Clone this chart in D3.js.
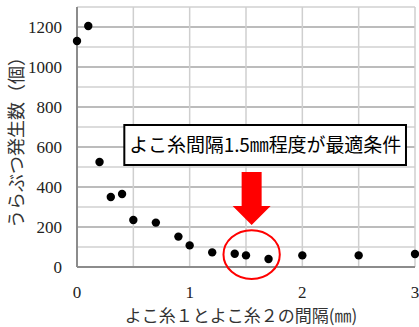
<!DOCTYPE html>
<html>
<head>
<meta charset="utf-8">
<script src="https://cdn.jsdelivr.net/npm/d3@7"></script>
<style>
  html, body { margin: 0; padding: 0; background: #fff; }
  svg { display: block; }
</style>
</head>
<body>
<div id="chart"></div>
<script>
// よこ糸間隔 vs うらぶつ発生数 — 散布図
const spacing = [0, 0.1, 0.2, 0.3, 0.4, 0.5, 0.7, 0.9, 1.0, 1.2, 1.4, 1.5, 1.7, 2.0, 2.5, 3.0]
const counts  = [1130, 1205, 525, 350, 365, 235, 222, 152, 108, 73, 66, 58, 40, 58, 58, 65]
const xTicks = [0, 1, 2, 3]
const yTicks = [0, 200, 400, 600, 800, 1000, 1200]
const xLabel = "よこ糸１とよこ糸２の間隔(㎜)"
const yLabel = "うらぶつ発生数（個）"
const note = "よこ糸間隔1.5㎜程度が最適条件"

const W = 419, H = 327
const margin = { top: 7, right: 4, bottom: 60, left: 77 }

const svg = d3.select("#chart").append("svg")
  .attr("width", W).attr("height", H)

const x = d3.scaleLinear().domain([0, 3]).range([margin.left, W - margin.right])
const y = d3.scaleLinear().domain([0, 1300]).range([H - margin.bottom, margin.top])

// grille : 100 clair, 200 plus foncé ; verticales tous les 0.5
const g = svg.append("g")
g.selectAll("line.hgrid")
  .data(d3.range(100, 1301, 100))
  .join("line")
  .attr("x1", x(0)).attr("x2", x(3))
  .attr("y1", d => y(d)).attr("y2", d => y(d))
  .attr("stroke", d => d % 200 === 0 ? "#a6a6a6" : "#d0d0d0")
  .attr("stroke-width", 1.5)
g.selectAll("line.vgrid")
  .data(d3.range(0.5, 3.01, 0.5))
  .join("line")
  .attr("x1", d => x(d)).attr("x2", d => x(d))
  .attr("y1", y(0)).attr("y2", y(1300))
  .attr("stroke", "#cfcfcf")
  .attr("stroke-width", 1.5)

// axes
g.append("line")
  .attr("x1", x(0)).attr("x2", x(0)).attr("y1", y(0)).attr("y2", y(1300))
  .attr("stroke", "#8c8c8c").attr("stroke-width", 2)
g.append("line")
  .attr("x1", x(0)).attr("x2", x(3)).attr("y1", y(0)).attr("y2", y(0))
  .attr("stroke", "#8c8c8c").attr("stroke-width", 2)

const tickFont = "'Liberation Serif', 'Times New Roman', serif"
svg.selectAll("text.ytick")
  .data(yTicks)
  .join("text")
  .attr("x", 62).attr("y", d => y(d) + 6)
  .attr("text-anchor", "end")
  .attr("font-family", tickFont).attr("font-size", 17)
  .attr("fill", "#222")
  .text(d => d)
svg.selectAll("text.xtick")
  .data(xTicks)
  .join("text")
  .attr("x", d => x(d)).attr("y", 298)
  .attr("text-anchor", "middle")
  .attr("font-family", tickFont).attr("font-size", 17)
  .attr("fill", "#222")
  .text(d => d)

const jpFont = "'Noto Sans CJK JP', sans-serif"
svg.append("text")
  .attr("x", 241).attr("y", 322)
  .attr("text-anchor", "middle")
  .attr("font-family", jpFont).attr("font-size", 17)
  .attr("fill", "#333")
  .text(xLabel)
svg.append("text")
  .attr("transform", "translate(23,138) rotate(-90)")
  .attr("text-anchor", "middle")
  .attr("font-family", jpFont).attr("font-size", 18)
  .attr("fill", "#333")
  .text(yLabel)

// points
svg.selectAll("circle.pt")
  .data(spacing.map((s, i) => [s, counts[i]]))
  .join("circle")
  .attr("cx", d => x(d[0])).attr("cy", d => y(d[1]))
  .attr("r", 4.2)
  .attr("fill", "#000")

// annotation : encadré
const box = { x0: 0.42, x1: 2.92, y0: 710, y1: 510 }
svg.append("rect")
  .attr("x", x(box.x0)).attr("y", y(box.y0))
  .attr("width", x(box.x1) - x(box.x0)).attr("height", y(box.y1) - y(box.y0))
  .attr("fill", "#fff").attr("stroke", "#000").attr("stroke-width", 2)
svg.append("text")
  .attr("x", x((box.x0 + box.x1) / 2)).attr("y", y((box.y0 + box.y1) / 2) + 7)
  .attr("text-anchor", "middle")
  .attr("font-family", jpFont).attr("font-size", 19)
  .attr("textLength", 272).attr("lengthAdjust", "spacing")
  .attr("fill", "#000")
  .text(note)

// flèche rouge vers 1.5 mm
const ax = x(1.55)
const arrowTop = y(475), arrowNeck = y(305), arrowTip = y(210)
svg.append("path")
  .attr("d", `M${ax - 10},${arrowTop} L${ax + 10},${arrowTop} L${ax + 10},${arrowNeck}
    L${ax + 19},${arrowNeck} L${ax},${arrowTip} L${ax - 19},${arrowNeck} L${ax - 10},${arrowNeck} Z`)
  .attr("fill", "#ff0000")

// ellipse rouge
svg.append("ellipse")
  .attr("cx", x(1.55)).attr("cy", y(62))
  .attr("rx", x(1.55) - x(1.3)).attr("ry", y(0) - y(122))
  .attr("fill", "none").attr("stroke", "#ff0000").attr("stroke-width", 2)
</script>
</body>
</html>
